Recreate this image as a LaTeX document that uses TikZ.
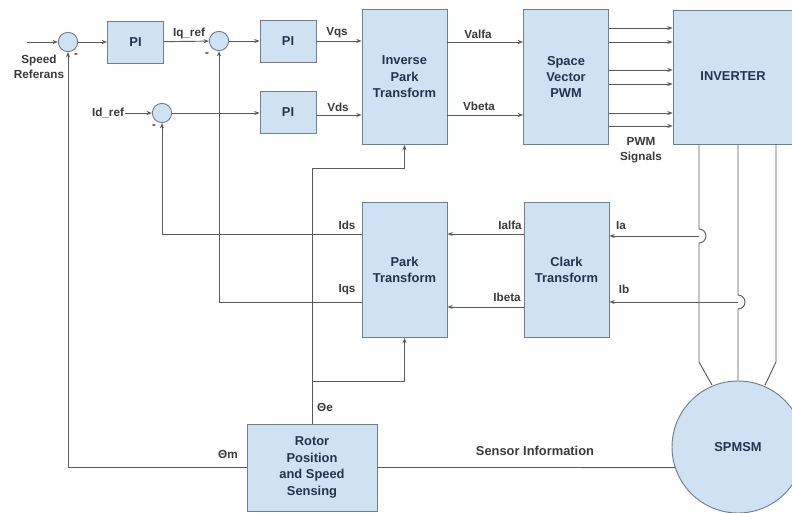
\documentclass[tikz,border=0pt]{standalone}
\usepackage{fontspec}
\setmainfont{Liberation Sans}
\usepackage{tikz}
\usetikzlibrary{arrows.meta}

\begin{document}
\begin{tikzpicture}[
  x=0.03cm, y=-0.03cm,
  every node/.style = {font=\bfseries\fontsize{10}{12.7}\selectfont},
  boxfont/.style  = {font=\bfseries\fontsize{11}{14}\selectfont},
  smallbox/.style = {rectangle, draw=boxline, fill=boxfill, text=boxtext,
                     line width=0.8pt, minimum width=1.68cm, minimum height=1.26cm,
                     align=center, boxfont},
  tallbox/.style  = {rectangle, draw=boxline, fill=boxfill, text=boxtext,
                     line width=0.8pt, minimum width=2.55cm, minimum height=4.05cm,
                     align=center, boxfont},
  sumnode/.style  = {circle, draw=boxline, fill=boxfill, line width=0.8pt,
                     minimum size=0.58cm, inner sep=0pt},
  siglabel/.style = {text=labeltext, align=center, inner sep=0pt},
  arr/.style  = {-{Stealth[length=4.5pt,width=3.5pt]}, line width=0.8pt, wire},
  line/.style = {line width=0.8pt, wire},
]
\definecolor{boxfill}{HTML}{CFE2F3}
\definecolor{boxline}{HTML}{6F7F8F}
\definecolor{boxtext}{HTML}{22344F}
\definecolor{labeltext}{HTML}{3A3A3A}
\definecolor{wire}{HTML}{5A5A5A}

\useasboundingbox (0,0) rectangle (792,513);

%% ── Summing junctions ─────────────────────────────────────────────────────
\node[sumnode] at (68, 42)  (sumspeed) {};
\node[sumnode] at (219, 41) (sumiq) {};
\node[sumnode] at (162, 113) (sumid) {};

%% ── Controllers ───────────────────────────────────────────────────────────
\node[smallbox] at (135.5, 42) (pispeed) {PI};
\node[smallbox] at (288, 41)   (piq) {PI};
\node[smallbox] at (288, 112)  (pid) {PI};

%% ── Transforms ────────────────────────────────────────────────────────────
\node[tallbox] at (404.5, 77)  (invpark) {Inverse\\Park\\Transform};
\node[tallbox] at (566, 77)    (svpwm) {Space\\Vector\\PWM};
\node[tallbox] at (404.5, 270) (park) {Park\\Transform};
\node[tallbox] at (566.5, 270) (clark) {Clark\\Transform};

\node[rectangle, draw=boxline, fill=boxfill, text=boxtext, line width=0.8pt,
      minimum width=3.6cm, minimum height=4.02cm, align=center, boxfont]
  at (733, 77.5) (inverter) {\raisebox{3pt}{INVERTER}};
\node[rectangle, draw=boxline, fill=boxfill, text=boxtext, line width=0.8pt,
      minimum width=3.9cm, minimum height=2.61cm, align=center, boxfont]
  at (312, 467.5) (rotor) {Rotor\\Position\\and Speed\\Sensing};
\node[circle, draw=boxline, fill=boxfill, text=boxtext, line width=0.8pt,
      minimum size=3.96cm, inner sep=0pt, boxfont]
  at (738, 447) (motor) {SPMSM};

%% ── Free ends and branch points ───────────────────────────────────────────
\coordinate (speedin) at (27, 42);
\coordinate (idin) at (125, 113);
\coordinate (invtap) at (312, 168);
\coordinate (parktap) at (312, 381);
\coordinate (hopa) at (699, 236);
\coordinate (hopb) at (738, 302);

%% ── Forward path ──────────────────────────────────────────────────────────
\draw[arr] (speedin) -- (sumspeed);
\draw[arr] (sumspeed) -- (pispeed);
\draw[arr] (pispeed) -- (sumiq);
\draw[arr] (sumiq) -- (piq);
\draw[arr] (idin) -- (sumid);
\draw[arr] (sumid) -- (pid.west |- sumid);
\draw[arr] (piq) -- (invpark.west |- piq);
\draw[arr] (pid.east |- 0,115) -- (invpark.west |- 0,115);
\draw[arr] (invpark.east |- 0,42) -- (svpwm.west |- 0,42);
\draw[arr] (invpark.east |- 0,115) -- (svpwm.west |- 0,115);

%% ── PWM signals ───────────────────────────────────────────────────────────
\foreach \ypwm in {28, 42, 70, 84, 113, 126}
  \draw[arr] (svpwm.east |- 0,\ypwm) -- (inverter.west |- 0,\ypwm);

%% ── Feedback ──────────────────────────────────────────────────────────────
\draw[arr] (park.west |- 0,234) -| (sumid.south);
\draw[arr] (park.west |- 0,302) -| (sumiq.south);
\draw[arr] (rotor.west) -| (sumspeed.south);
\draw[line] (rotor.north) -- (invtap);
\draw[arr] (invtap) -| (invpark.south);
\draw[arr] (parktap) -| (park.south);
\draw[arr] (clark.west |- 0,234) -- (park.east |- 0,234);
\draw[arr] (clark.west |- 0,307) -- (park.east |- 0,307);
\draw[arr] (hopa) -- (clark.east |- hopa);
\draw[arr] (hopb) -- (clark.east |- hopb);
\draw[line] (rotor.east) -- (motor.198.1);

%% ── Motor phases with hops ────────────────────────────────────────────────
\draw[line] (inverter.south -| hopa) -- (699, 229)
  arc[start angle=90, end angle=-90, radius=0.21cm] -- (699, 362) -- (712, 385);
\draw[line] (inverter.south -| hopb) -- (738, 295)
  arc[start angle=90, end angle=-90, radius=0.21cm] -- (motor.north);
\draw[line] (776, 144) -- (776, 362) -- (765, 385);

%% ── Labels ────────────────────────────────────────────────────────────────
\node[siglabel] at (39, 67)    (lblspeed) {Speed\\Referans};
\node[siglabel] at (189, 33)   (lbliqref) {Iq\_ref};
\node[siglabel] at (108, 113)  (lblidref) {Id\_ref};
\node[siglabel] at (337, 33)   (lblvqs) {Vqs};
\node[siglabel] at (338, 107)  (lblvds) {Vds};
\node[siglabel] at (478, 34)   (lblvalfa) {Valfa};
\node[siglabel] at (479, 106)  (lblvbeta) {Vbeta};
\node[siglabel] at (641, 150)  (lblpwm) {PWM\\Signals};
\node[siglabel] at (347, 225)  (lblids) {Ids};
\node[siglabel] at (347, 290)  (lbliqs) {Iqs};
\node[siglabel] at (510, 225)  (lblialfa) {Ialfa};
\node[siglabel] at (507, 297)  (lblibeta) {Ibeta};
\node[siglabel] at (621, 226)  (lblia) {Ia};
\node[siglabel] at (624, 289)  (lblib) {Ib};
\node[siglabel] at (325, 407)  (lbltheta) {Θe};
\node[siglabel] at (228, 454)  (lblthetam) {Θm};
\node[siglabel, boxfont] at (535, 451) (lblsensor) {Sensor Information};
\node[siglabel] at (76, 56)   (minusa) {-};
\node[siglabel] at (207, 55)  (minusb) {-};
\node[siglabel] at (154, 127) (minusc) {-};

\end{tikzpicture}
\end{document}
